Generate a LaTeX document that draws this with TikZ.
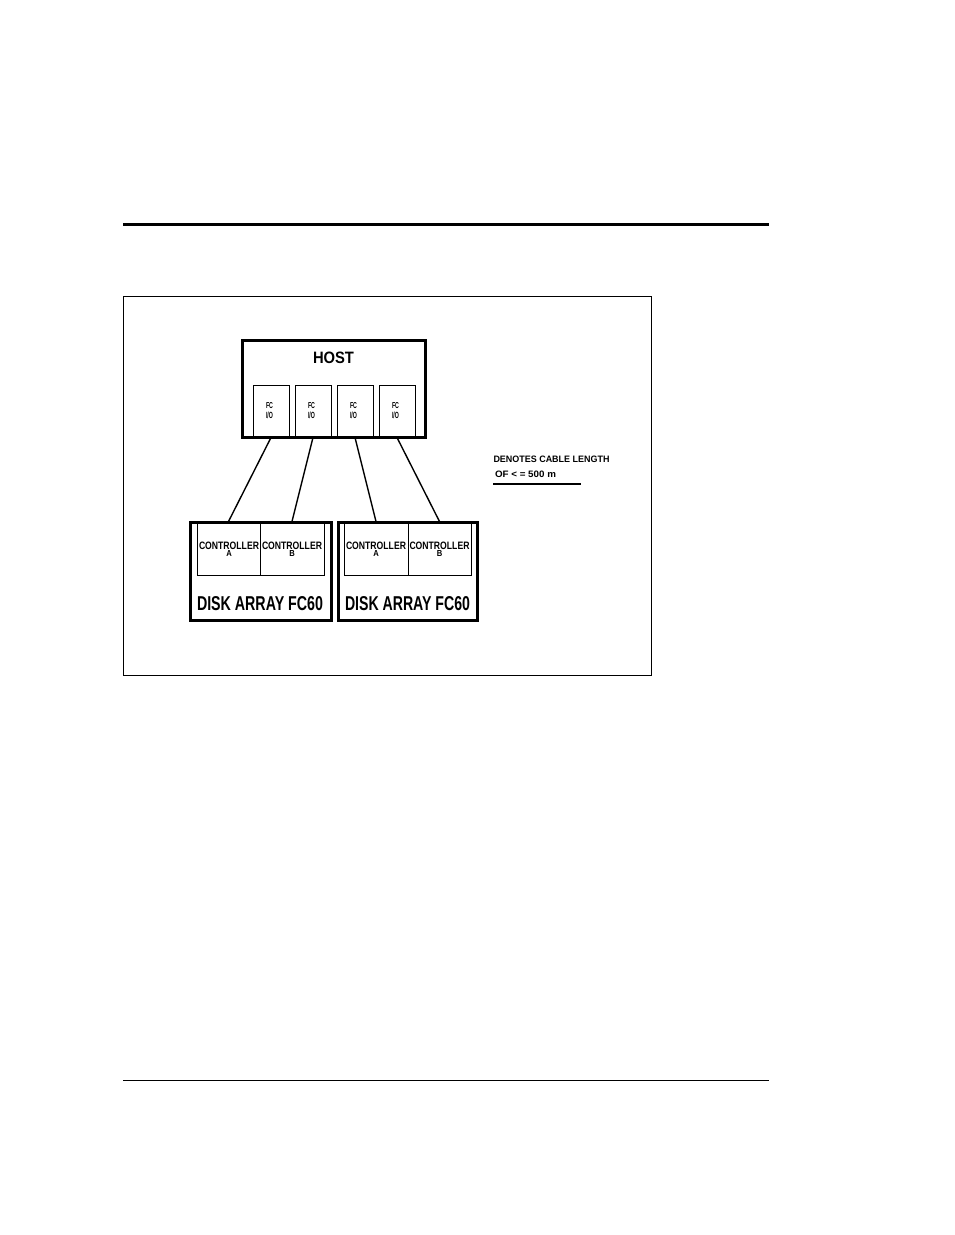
\documentclass[tikz,border=0pt]{standalone}
\usepackage{fontspec}
\usepackage{graphicx}
\setmainfont{Liberation Sans}
\newcommand\fitbox[3]{\resizebox{#1pt}{#2pt}{#3}}
\begin{document}
\begin{tikzpicture}[x=1pt,y=-1pt,
  thickbox/.style={draw,line width=3pt,rectangle,inner sep=0pt},
  thinbox/.style={draw,line width=1pt,rectangle,inner sep=0pt},
  lbl/.style={inner sep=0pt,outer sep=0pt},
  cable/.style={line width=1.4pt},
  rulethick/.style={line width=3pt},
  rulethin/.style={line width=1pt}]
\useasboundingbox (0,0) rectangle (954,1235);
% page rules
\coordinate (rt1) at (123,224);
\coordinate (rt2) at (769,224);
\draw[rulethick] (rt1) -- (rt2);
\coordinate (rb1) at (123,1080);
\coordinate (rb2) at (769,1080);
\draw[rulethin] (rb1) -- (rb2);
% figure frame
\node[thinbox,line width=0.9pt,minimum width=528pt,minimum height=379pt] (frame) at (387.25,485.75) {};
% host
\node[thickbox,minimum width=183pt,minimum height=97pt] (host) at (333.5,388.5) {};
\node[lbl] (hostlbl) at (333.5,357.5) {\fitbox{41}{11.5}{\bfseries HOST}};
\foreach \i/\x in {1/271,2/313,3/355,4/397}{
  \node[thinbox,minimum width=36pt,minimum height=52pt] (fc\i) at (\x,411) {};
  \node[lbl] (fct\i) at (\x-1.5,406) {\fitbox{7}{6}{\bfseries FC}};
  \node[lbl] (fcb\i) at (\x-1.5,415) {\fitbox{7}{6.5}{\bfseries I/O}};
}
% disk arrays
\node[thickbox,minimum width=141pt,minimum height=98pt] (disk1) at (260.5,571) {};
\node[thickbox,minimum width=139pt,minimum height=98pt] (disk2) at (407.5,571) {};
\node[thinbox,minimum width=63pt,minimum height=53pt] (ca1) at (228.5,548.5) {};
\node[thinbox,minimum width=64pt,minimum height=53pt] (cb1) at (292,548.5) {};
\node[thinbox,minimum width=64pt,minimum height=53pt] (ca2) at (376,548.5) {};
\node[thinbox,minimum width=63pt,minimum height=53pt] (cb2) at (439.5,548.5) {};
\foreach \n/\x/\l in {1/229/A,2/292/B,3/376/A,4/439.5/B}{
  \node[lbl] (ct\n) at (\x,545.5) {\fitbox{60}{7.5}{\bfseries CONTROLLER}};
  \node[lbl] (cl\n) at (\x,553.5) {\fitbox{5.5}{6}{\bfseries\l}};
}
\node[lbl] (dl1) at (260,604) {\fitbox{126}{14}{\bfseries DISK ARRAY FC60}};
\node[lbl] (dl2) at (407.5,604) {\fitbox{125}{14}{\bfseries DISK ARRAY FC60}};
% cables
\draw[cable] (fc1.south) -- (ca1.north);
\draw[cable] (fc2.south) -- (cb1.north);
\draw[cable] (fc3.south) -- (ca2.north);
\draw[cable] (fc4.south) -- (cb2.north);
% legend
\node[lbl,anchor=west] (leg1) at (493.5,459.7) {\fitbox{116}{6.5}{\bfseries DENOTES CABLE LENGTH}};
\node[lbl,anchor=west] (leg2) at (495,474) {\fitbox{61}{6.5}{\bfseries OF \textless\ = 500 m}};
\coordinate (ul1) at (493,484);
\coordinate (ul2) at (581,484);
\draw[cable] (ul1) -- (ul2);
\end{tikzpicture}
\end{document}
